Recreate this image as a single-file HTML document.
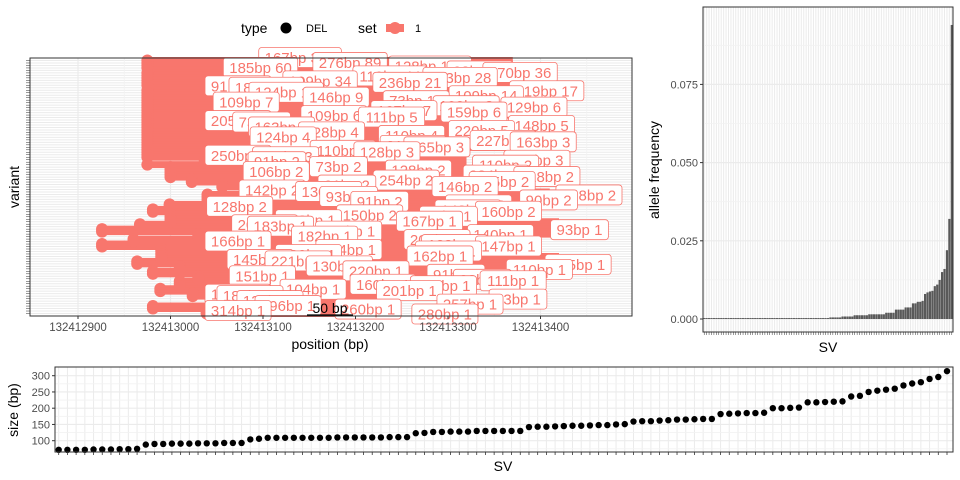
<!DOCTYPE html>
<html><head><meta charset="utf-8"><style>
body{margin:0;background:#fff;}
svg{display:block;font-family:"Liberation Sans",sans-serif;}
</style></head><body>
<svg id="chart" width="960" height="480" viewBox="0 0 960 480" xmlns="http://www.w3.org/2000/svg">
<g id="legend">
  <text x="241" y="33" font-size="14">type</text>
  <circle cx="286" cy="28" r="5.5" fill="#000"/>
  <text x="306" y="32" font-size="11">DEL</text>
  <text x="358" y="33" font-size="14">set</text>
  <line x1="386" y1="28" x2="404" y2="28" stroke="#F8766D" stroke-width="8"/>
  <circle cx="395" cy="28" r="6" fill="#F8766D"/>
  <text x="415" y="32" font-size="11">1</text>
</g>
<g id="p1"></g>
<g id="p2"></g>
<g id="p3"></g>
</svg>
<script>
// ---------- data ----------
const sizes = [72,72,72,72,73,73,73,74,74,75,88,90,90,91,91,91,92,92,92,93,93,93,104,106,
109,109,109,109,109,109,109,109,110,110,110,110,110,110,111,111,111,123,124,127,127,128,128,128,
130,130,130,130,130,130,142,143,143,144,145,146,146,147,148,148,150,151,
159,160,160,162,163,165,165,166,167,167,182,183,184,185,185,186,200,200,201,202,
218,218,219,220,221,236,238,250,254,257,260,270,276,280,290,296,314];
const afValues = [
0.0003,0.0003,0.0003,0.0003,0.0003,0.0003,0.0003,0.0003,0.0003,0.0003,0.0003,0.0003,0.0003,
0.0003,0.0003,0.0003,0.0003,0.0003,0.0003,0.0003,0.0003,0.0003,0.0003,0.0003,0.0003,0.0003,
0.0003,0.0003,0.0003,0.0003,0.0003,0.0003,0.0003,0.0003,0.0003,0.0003,0.0003,0.0003,0.0003,
0.0003,0.0003,0.0003,0.0003,0.0003,0.0003,0.0003,0.0003,0.0003,0.0003,0.0003,0.0003,0.0003,
0.0005,0.0005,0.0005,0.0005,0.0005,0.0008,0.0008,0.0008,0.0008,0.0008,
0.0012,0.0012,0.0012,0.0012,0.0012,0.0012,0.0015,0.0015,0.0015,0.0015,0.0015,0.0015,0.0015,
0.002,0.002,0.002,0.002,0.003,0.003,0.003,0.003,0.0037,0.0037,0.0037,
0.005,0.005,0.0055,0.0055,0.0058,0.008,0.0085,0.0088,0.009,0.0105,0.011,0.0125,
0.015,0.016,0.022,0.032,0.094];
const afTicks = [0,0.025,0.05,0.075];
const afTickLabels = ["0.000","0.025","0.050","0.075"];
const sizeTicks = [100,150,200,250,300];
const posBase = 132412900;
const posTicks = [132412900,132413000,132413100,132413200,132413300,132413400];
const rowCounts = [380,130,89,64,60,44,36,34,28,23,21,17,16,14,13,10,9,8,7,7,6,6,6,6,5,5,5,5,5,4,4,4,4,4,3,3,3,3,3,3,3,
2,2,2,2,2,2,2,2,2,2,2,2,2,2,2,2,2,2,2,2,2,2,
1,1,1,1,1,1,1,1,1,1,1,1,1,1,1,1,1,1,1,1,1,1,1,1,1,1,1,1,1,1,1,1,1,1,1,1,1,1,1,1];
const rowSizes = [167,128,276,93,185,110,270,109,183,91,236,219,185,109,124,73,146,109,109,167,129,109,159,205,
111,148,73,220,163,110,128,227,124,215,163,110,165,250,128,112,288,110,91,128,73,234,106,254,218,91,
185,142,146,128,130,90,93,116,91,143,128,150,160,142,74,202,167,93,183,140,110,200,182,128,166,254,
147,109,148,145,162,165,221,110,130,91,220,92,151,160,111,104,143,109,201,93,184,257,130,260,296,280,314];
const rowStarts = [75,75,75,75,76,75,75,75,75,75,75,76,75,75,75,75,75,75,75,75,75,75,75,75,75,75,75,75,75,75,
75,75,75,75,75,75,75,75,75,75,137,137,75,100,100,100,100,100,123,123,156,156,184,184,140,140,140,140,
99,99,81,81,100,100,100,100,67,67,26,26,130,130,60,60,26,26,90,90,90,90,90,64,64,110,110,81,81,130,130,
110,110,110,89,89,124,124,150,150,150,81,81,139,139];
const rowEnds = [470,470,470,470,470,470,470,470,470,470,470,440,440,440,440,440,440,440,440,500,500,500,500,
430,430,430,430,430,430,430,430,520,520,520,520,520,420,420,420,420,420,420,420,420,420,480,480,480,480,480,480,
480,480,510,510,510,510,510,510,420,420,420,420,420,420,520,520,520,520,520,520,430,430,430,430,430,430,430,430,
520,520,520,520,520,520,520,520,420,420,420,420,420,420,420,420,330,330,330,330,330,330,330,330];

const NS="http://www.w3.org/2000/svg";
function mk(parent, tag, attrs, name, text){
  const e=document.createElementNS(NS,tag);
  for(const k in attrs) e.setAttribute(k,attrs[k]);
  
  
  if(text!==undefined) e.textContent=text;
  parent.appendChild(e); return e;
}
const TICK="#4d4d4d", GRID="#ebebeb", SAL="#F8766D";

// ---------- panel 1: variants ----------
(function(){
  const g=document.getElementById('p1');
  const L=30,R=632,T=58,B=316, n=rowCounts.length;
  const xs=v=>78+(v-posBase)*0.925;
  const yr=i=>60.5+i*(313.5-60.5)/(n-1);
  mk(g,'rect',{x:L,y:T,width:R-L,height:B-T,fill:'#fff'},'plot-background');
  for(let i=0;i<n;i++){
    mk(g,'line',{x1:L,x2:R,y1:yr(i),y2:yr(i),stroke:GRID,'stroke-width':1},'row-gridline');
  }
  for(let k=0;k<posTicks.length;k++){
    mk(g,'line',{x1:xs(posTicks[k]),x2:xs(posTicks[k]),y1:T,y2:B,stroke:GRID,'stroke-width':1.2},'x-gridline');
    mk(g,'line',{x1:xs(posTicks[k]+50),x2:xs(posTicks[k]+50),y1:T,y2:B,stroke:'#f2f2f2','stroke-width':0.8},'x-minor-gridline');
  }
  for(let i=0;i<n;i++){
    const s=posBase+rowStarts[i], e=posBase+rowEnds[i];
    mk(g,'line',{x1:xs(s),x2:xs(e),y1:yr(i),y2:yr(i),stroke:SAL,'stroke-width':7},'variant-segment');
  }
  for(let i=0;i<n;i++){
    mk(g,'circle',{cx:xs(posBase+rowStarts[i]),cy:yr(i),r:6,fill:SAL},'variant-point');
  }
  const spread=[-70,60,-20,110,-110,20,150,-50,90,-140,40,190,-90,130];
  for(let i=0;i<n;i++){
    const txt=rowSizes[i]+'bp '+rowCounts[i];
    const mid=(posBase+rowStarts[i]+posBase+rowEnds[i])/2;
    let cx=xs(mid)+40+spread[i%spread.length];
    const w=txt.length*8.3+8;
    cx=Math.max(205+w/2,Math.min(R-w/2-10,cx));
    const cy=yr(i)+(i%2?3:-3);
    mk(g,'rect',{x:cx-w/2,y:cy-10,width:w,height:20,rx:3,fill:'#fff',stroke:SAL,'stroke-width':0.8},'variant-label-box');
    mk(g,'text',{x:cx,y:cy+5.5,'text-anchor':'middle','font-size':15,fill:SAL},'variant-label',txt);
  }
  mk(g,'rect',{x:L,y:T,width:R-L,height:B-T,fill:'none',stroke:'#333','stroke-width':1},'plot-border');
  for(let i=0;i<n;i++) mk(g,'line',{x1:26,x2:L,y1:yr(i),y2:yr(i),stroke:'#333','stroke-width':0.5},'y-tick');
  for(let k=0;k<posTicks.length;k++){
    const x=xs(posTicks[k]);
    mk(g,'line',{x1:x,x2:x,y1:B,y2:B+3,stroke:'#333'},'x-tick');
    mk(g,'text',{x:x,y:B+15,'text-anchor':'middle','font-size':11.5,fill:TICK},'x-tick-label',String(posTicks[k]));
  }
  mk(g,'line',{x1:307,x2:353,y1:315,y2:315,stroke:'#000','stroke-width':1.2},'scale-bar');
  mk(g,'text',{x:330,y:313,'text-anchor':'middle','font-size':14,fill:'#000'},'scale-bar-label','50 bp');
  mk(g,'text',{x:330,y:349,'text-anchor':'middle','font-size':14},'x-axis-title','position (bp)');
  mk(g,'text',{x:19,y:187,'text-anchor':'middle','font-size':14,transform:'rotate(-90 19 187)'},'y-axis-title','variant');
})();

// ---------- panel 2: allele frequency ----------
(function(){
  const g=document.getElementById('p2');
  const L=703,R=953,T=7,B=332, n=afValues.length;
  const ys=v=>319-v*3128;
  const band=(R-L)/n;
  const xc=i=>L+band*(i+0.5);
  mk(g,'rect',{x:L,y:T,width:R-L,height:B-T,fill:'#fff'},'plot-background');
  for(let i=0;i<n;i++) mk(g,'line',{x1:xc(i),x2:xc(i),y1:T,y2:B,stroke:GRID,'stroke-width':1},'x-gridline');
  for(let k=0;k<afTicks.length;k++){
    mk(g,'line',{x1:L,x2:R,y1:ys(afTicks[k]),y2:ys(afTicks[k]),stroke:GRID,'stroke-width':1.2},'y-gridline');
    mk(g,'line',{x1:L,x2:R,y1:ys(afTicks[k]+0.0125),y2:ys(afTicks[k]+0.0125),stroke:'#f2f2f2','stroke-width':0.8},'y-minor-gridline');
  }
  for(let i=0;i<n;i++){
    const y=ys(afValues[i]);
    mk(g,'rect',{x:xc(i)-band*0.45,y:y,width:band*0.9,height:Math.max(0.8,ys(0)-y),fill:'#595959'},'af-bar');
  }
  mk(g,'rect',{x:L,y:T,width:R-L,height:B-T,fill:'none',stroke:'#333','stroke-width':1},'plot-border');
  for(let i=0;i<n;i++) mk(g,'line',{x1:xc(i),x2:xc(i),y1:B,y2:B+3,stroke:'#333','stroke-width':0.5},'x-tick');
  for(let k=0;k<afTicks.length;k++){
    const y=ys(afTicks[k]);
    mk(g,'line',{x1:L-3,x2:L,y1:y,y2:y,stroke:'#333'},'y-tick');
    mk(g,'text',{x:L-5,y:y+4,'text-anchor':'end','font-size':11,fill:TICK},'y-tick-label',afTickLabels[k]);
  }
  mk(g,'text',{x:828,y:352,'text-anchor':'middle','font-size':14},'x-axis-title','SV');
  mk(g,'text',{x:659,y:170,'text-anchor':'middle','font-size':14,transform:'rotate(-90 659 170)'},'y-axis-title','allele frequency');
})();

// ---------- panel 3: size ----------
(function(){
  const g=document.getElementById('p3');
  const L=55,R=953,T=367,B=452, n=sizes.length;
  const ys=v=>440.7-(v-100)*0.325;
  const step=(947-58.7)/(n-1);
  const xs=i=>58.7+i*step;
  mk(g,'rect',{x:L,y:T,width:R-L,height:B-T,fill:'#fff'},'plot-background');
  for(let i=0;i<n;i++) mk(g,'line',{x1:xs(i),x2:xs(i),y1:T,y2:B,stroke:GRID,'stroke-width':1},'x-gridline');
  for(let k=0;k<sizeTicks.length;k++){
    mk(g,'line',{x1:L,x2:R,y1:ys(sizeTicks[k]),y2:ys(sizeTicks[k]),stroke:GRID,'stroke-width':1.2},'y-gridline');
    mk(g,'line',{x1:L,x2:R,y1:ys(sizeTicks[k]-25),y2:ys(sizeTicks[k]-25),stroke:'#f2f2f2','stroke-width':0.8},'y-minor-gridline');
  }
  for(let i=0;i<n;i++) mk(g,'circle',{cx:xs(i),cy:ys(sizes[i]),r:3.2,fill:'#000'},'size-point');
  mk(g,'rect',{x:L,y:T,width:R-L,height:B-T,fill:'none',stroke:'#333','stroke-width':1},'plot-border');
  for(let i=0;i<n;i++) mk(g,'line',{x1:xs(i),x2:xs(i),y1:B,y2:B+3,stroke:'#333','stroke-width':0.8},'x-tick');
  for(let k=0;k<sizeTicks.length;k++){
    const y=ys(sizeTicks[k]);
    mk(g,'line',{x1:L-3,x2:L,y1:y,y2:y,stroke:'#333'},'y-tick');
    mk(g,'text',{x:L-5,y:y+4,'text-anchor':'end','font-size':11,fill:TICK},'y-tick-label',String(sizeTicks[k]));
  }
  mk(g,'text',{x:503,y:471,'text-anchor':'middle','font-size':14},'x-axis-title','SV');
  mk(g,'text',{x:18,y:410,'text-anchor':'middle','font-size':14,transform:'rotate(-90 18 410)'},'y-axis-title','size (bp)');
})();
</script>
</body></html>
